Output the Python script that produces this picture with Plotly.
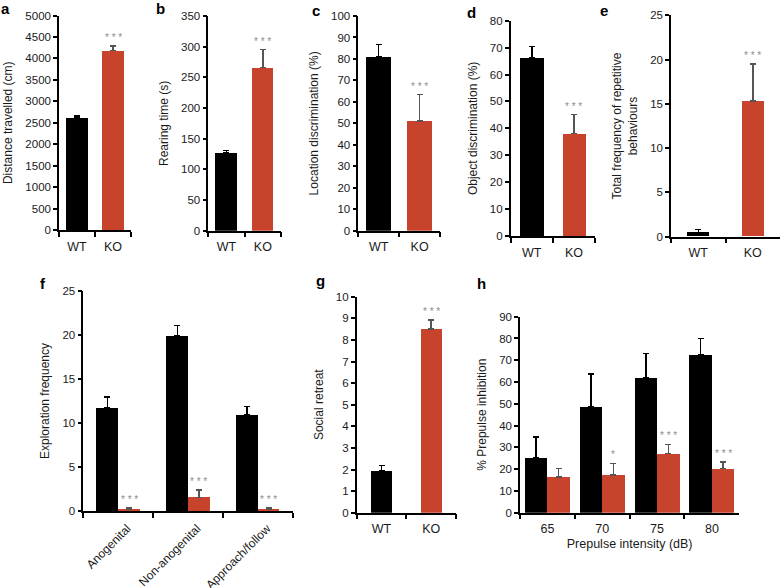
import plotly.graph_objects as go

W, H = 782, 588
RED = "#C8432C"
STAR = "#8c8c8c"
FONT = "Liberation Sans, Arial, sans-serif"

groups = ["WT", "KO"]
a_vals = [2620, 4180]; a_err = [35, 105]
b_vals = [127, 266]; b_err = [3.5, 29]
c_vals = [81, 51]; c_err = [5.7, 12.4]
d_vals = [66.2, 38.1]; d_err = [4.3, 7.0]
e_vals = [0.45, 15.3]; e_err = [0.35, 4.2]
g_vals = [1.94, 8.5]; g_err = [0.25, 0.43]

f_cats = ["Anogenital", "Non-anogenital", "Approach/follow"]
f_wt = [11.7, 19.9, 10.9]; f_wt_err = [1.25, 1.2, 1.0]
f_ko = [0.2, 1.55, 0.2]; f_ko_err = [0.15, 0.85, 0.15]
f_stars = ["* * *", "* * *", "* * *"]

h_cats = ["65", "70", "75", "80"]
h_wt = [25.4, 48.7, 62.0, 72.7]; h_wt_err = [9.3, 15.0, 11.2, 7.2]
h_ko = [16.5, 17.3, 27.1, 20.4]; h_ko_err = [3.9, 5.4, 4.3, 2.9]
h_stars = ["", "*", "* * *", "* * *"]

fig = go.Figure()


def px_x(v):
    return v / W


def px_y(v):
    return 1 - v / H


panels = {
    "a": dict(x=(59, 131), y=(15.5, 230), yr=5000, dt=500, title="Distance travelled (cm)", lp=(5, 9)),
    "b": dict(x=(208.3, 281), y=(16, 230.7), yr=350, dt=50, title="Rearing time (s)", lp=(160, 9)),
    "c": dict(x=(358.3, 440), y=(16, 230.7), yr=100, dt=10, title="Location discrimination (%)", lp=(316, 11)),
    "d": dict(x=(510.7, 595), y=(20.7, 236), yr=80, dt=10, title="Object discrimination (%)", lp=(471, 13)),
    "e": dict(x=(671, 780), y=(15.3, 236.7), yr=25, dt=5, title="Total frequency of repetitive<br>behaviours", lp=(604, 10)),
    "f": dict(x=(83.3, 293), y=(291, 511), yr=25, dt=5, title="Exploration frequency", lp=(42.5, 283)),
    "g": dict(x=(356.7, 456), y=(296.7, 512.7), yr=10, dt=1, title="Social retreat", lp=(320, 281)),
    "h": dict(x=(520, 739.3), y=(316.7, 512.7), yr=90, dt=10, title="% Prepulse inhibition", lp=(482, 283)),
}

order = ["a", "b", "c", "d", "e", "f", "g", "h"]
two_bar = {"a": (a_vals, a_err, 0.62), "b": (b_vals, b_err, 0.6), "c": (c_vals, c_err, 0.61),
           "d": (d_vals, d_err, 0.55), "e": (e_vals, e_err, 0.4), "g": (g_vals, g_err, 0.42)}

TICKF = dict(size=11.5, family=FONT, color="#1a1a1a")
TITLEF = dict(size=12, family=FONT, color="#1a1a1a")
STARF = dict(size=10, color=STAR, family=FONT)

annotations = []
for i, key in enumerate(order):
    p = panels[key]
    n = i + 1
    xa = "x" if n == 1 else f"x{n}"
    ya = "y" if n == 1 else f"y{n}"
    xlay = "xaxis" if n == 1 else f"xaxis{n}"
    ylay = "yaxis" if n == 1 else f"yaxis{n}"

    if key in two_bar:
        vals, errs, w = two_bar[key]
        for j, (col, ecol) in enumerate([("black", "black"), (RED, "#555555")]):
            fig.add_trace(go.Bar(
                x=[groups[j]], y=[vals[j]], xaxis=xa, yaxis=ya, width=w, offset=-w / 2,
                marker=dict(color=col, line=dict(width=0)),
                error_y=dict(type="data", array=[errs[j]], arrayminus=[0], symmetric=False,
                             color=ecol, thickness=1.5, width=3),
                showlegend=False))
        annotations.append(dict(x=1, y=vals[1] + errs[1], xref=xa, yref=ya, text="* * *",
                                showarrow=False, yanchor="bottom", yshift=1, font=STARF))
        cats = groups
    else:
        if key == "f":
            cats, wt, wte, ko, koe, stars, w = f_cats, f_wt, f_wt_err, f_ko, f_ko_err, f_stars, 0.31
        else:
            cats, wt, wte, ko, koe, stars, w = h_cats, h_wt, h_wt_err, h_ko, h_ko_err, h_stars, 0.41
        fig.add_trace(go.Bar(
            x=cats, y=wt, xaxis=xa, yaxis=ya, width=w, offset=-w,
            marker=dict(color="black", line=dict(width=0)),
            error_y=dict(type="data", array=wte, arrayminus=[0] * len(wte), symmetric=False,
                         color="black", thickness=1.5, width=3),
            showlegend=False))
        fig.add_trace(go.Bar(
            x=cats, y=ko, xaxis=xa, yaxis=ya, width=w, offset=0,
            marker=dict(color=RED, line=dict(width=0)),
            error_y=dict(type="data", array=koe, arrayminus=[0] * len(koe), symmetric=False,
                         color="#555555", thickness=1.5, width=3),
            showlegend=False))
        for k, s in enumerate(stars):
            if s:
                annotations.append(dict(x=k + w / 2, y=ko[k] + koe[k], xref=xa, yref=ya, text=s,
                                        showarrow=False, yanchor="bottom", yshift=1, font=STARF))

    fig.layout[xlay] = dict(
        domain=[px_x(p["x"][0]), px_x(p["x"][1])], anchor=ya, type="category",
        categoryorder="array", categoryarray=cats, range=[-0.5, len(cats) - 0.5],
        showline=True, linecolor="black", linewidth=1.5, ticks="outside", tickson="boundaries",
        ticklen=5, tickwidth=1.5, tickcolor="black", showgrid=False, zeroline=False,
        tickfont=dict(size=12.5 if key != "f" else 12, family=FONT, color="#1a1a1a"),
        tickangle=-45 if key == "f" else 0, fixedrange=True, automargin=False,
        ticklabelstandoff=4, ticklabelshift=9 if key == "f" else 0,
    )
    if key == "h":
        fig.layout[xlay]["title"] = dict(text="Prepulse intensity (dB)",
                                         font=dict(size=12.5, family=FONT, color="#1a1a1a"), standoff=4)
    fig.layout[ylay] = dict(
        domain=[px_y(p["y"][1]), px_y(p["y"][0])], anchor=xa, range=[0, p["yr"]], dtick=p["dt"],
        showline=True, linecolor="black", linewidth=1.5, ticks="outside", ticklen=4, tickwidth=1.5,
        tickcolor="black", showgrid=False, zeroline=False, automargin=False,
        tickfont=TICKF, fixedrange=True,
        title=dict(text=p["title"], font=TITLEF, standoff=10),
    )
    annotations.append(dict(x=px_x(p["lp"][0]), y=px_y(p["lp"][1]), xref="paper", yref="paper",
                            text=f"<b>{key}</b>", showarrow=False, xanchor="center", yanchor="middle",
                            font=dict(size=15, family=FONT, color="black")))

fig.update_layout(
    template="none",
    width=W, height=H, margin=dict(l=0, r=0, t=0, b=0, pad=0),
    paper_bgcolor="white", plot_bgcolor="white", annotations=annotations,
    bargap=0, font=dict(family=FONT), showlegend=False,
)

fig.write_html("out.html", config={"displayModeBar": False},
               post_script="document.body.style.margin='0px';")
